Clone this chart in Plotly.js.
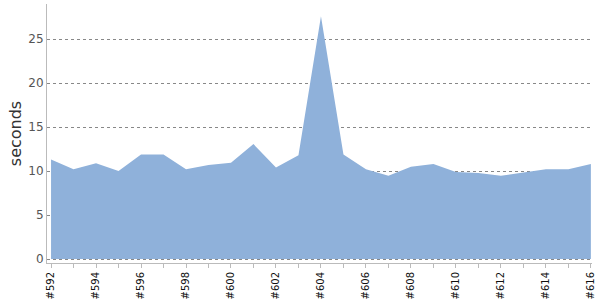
<!DOCTYPE html>
<html><head><meta charset="utf-8">
<script src="https://cdn.plot.ly/plotly-3.0.1.min.js"></script>
<style>html,body{margin:0;padding:0;background:#fff}</style>
</head><body>
<div id="chart" style="width:600px;height:300px"></div>
<script>
const builds = ["#592","#593","#594","#595","#596","#597","#598","#599","#600","#601","#602","#603","#604","#605","#606","#607","#608","#609","#610","#611","#612","#613","#614","#615","#616"];
const seconds = [11.33,10.2,10.9,10.0,11.9,11.9,10.2,10.7,10.95,13.07,10.4,11.8,27.6,11.9,10.2,9.47,10.5,10.8,9.9,9.77,9.47,9.8,10.2,10.2,10.8];
const tickLabels = builds.map((b,i)=> i%2===0 ? b : "");
const yTicks = [0,5,10,15,20,25];

Plotly.newPlot('chart', [{
  x: builds, y: seconds, type:'scatter', mode:'lines', fill:'tozeroy',
  fillcolor:'#8fb1da', line:{width:0, color:'#8fb1da'}, hoverinfo:'skip'
}], {
  width:600, height:300,
  margin:{l:47, r:8, t:4, b:37},
  paper_bgcolor:'#fff', plot_bgcolor:'#fff',
  font:{family:'DejaVu Sans', color:'#444'},
  showlegend:false,
  xaxis:{type:'category', range:[-0.18, 24.05], tickmode:'array', tickvals:builds, ticktext:tickLabels,
    tickangle:-90, ticks:'outside', ticklen:4, tickcolor:'#bbb', tickfont:{size:10, color:'#111'},
    showline:true, linecolor:'#bbb', linewidth:1, showgrid:false, zeroline:false, fixedrange:true},
  yaxis:{range:[-0.45, 29], tickmode:'array', tickvals:yTicks, ticks:'', tickfont:{size:12, color:'#555'},
    showline:true, linecolor:'#bbb', linewidth:1, showgrid:true, gridcolor:'#888', griddash:'dot', gridwidth:1,
    zeroline:false, layer:'above traces',
    title:{text:'seconds', font:{size:16, color:'#333'}, standoff:2}, fixedrange:true}
}, {displayModeBar:false, staticPlot:true});
</script>
</body></html>
